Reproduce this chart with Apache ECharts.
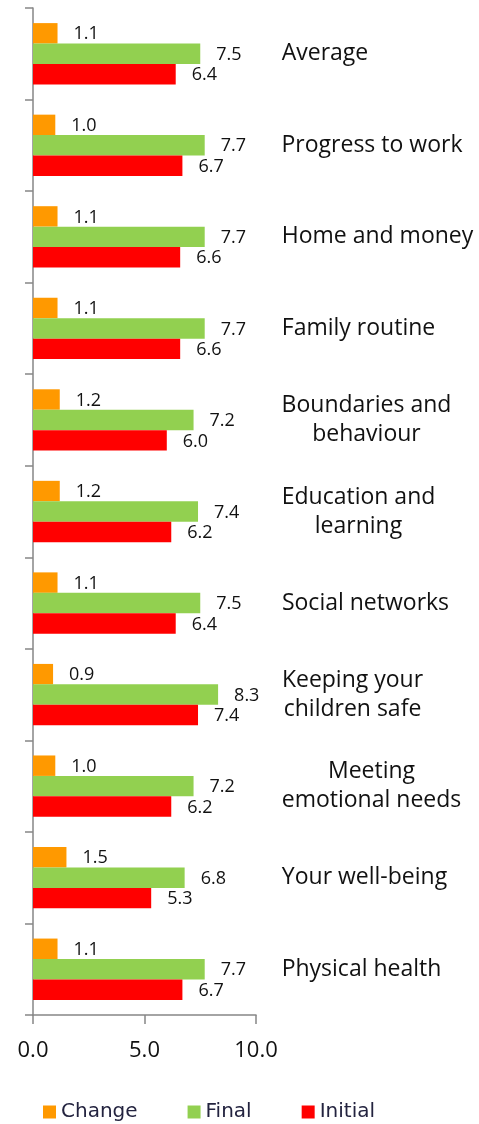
<!DOCTYPE html>
<html>
<head>
<meta charset="utf-8">
<script src="https://cdn.jsdelivr.net/npm/echarts@6/dist/echarts.min.js"></script>
<style>
  html, body { margin: 0; padding: 0; background: #fff; }
  #chart { width: 479px; height: 1124px; }
</style>
</head>
<body>
<div id="chart"></div>
<script>
// categories, top to bottom
const categories = [
  'Average', 'Progress to work', 'Home and money', 'Family routine',
  'Boundaries and\nbehaviour', 'Education and\nlearning', 'Social networks',
  'Keeping your\nchildren safe', 'Meeting\nemotional needs', 'Your well-being',
  'Physical health'
]
const changeValues = [1.1, 1.0, 1.1, 1.1, 1.2, 1.2, 1.1, 0.9, 1.0, 1.5, 1.1]
const finalValues = [7.5, 7.7, 7.7, 7.7, 7.2, 7.4, 7.5, 8.3, 7.2, 6.8, 7.7]
const initialValues = [6.4, 6.7, 6.6, 6.6, 6.0, 6.2, 6.4, 7.4, 6.2, 5.3, 6.7]
const xTicks = [0, 5, 10]

const FONT = '"Open Sans", "Noto Sans", sans-serif'
const catFontSize = 23

// multi-line labels are centred inside their own block, block left-aligned
const ctx = document.createElement('canvas').getContext('2d')
ctx.font = catFontSize + 'px "Open Sans"'
const rich = {}
categories.forEach((c, i) => {
  const w = Math.max(...c.split('\n').map(l => ctx.measureText(l).width))
  rich['c' + i] = {
    width: Math.ceil(w) + 1,
    align: 'center',
    fontSize: catFontSize,
    lineHeight: 29,
    fontFamily: FONT,
    color: '#111'
  }
})

const myChart = echarts.init(document.getElementById('chart'))

const valueLabel = {
  show: true,
  position: 'right',
  distance: 16,
  offset: [0, 1],
  fontSize: 18,
  fontFamily: FONT,
  color: '#111',
  formatter: p => p.value.toFixed(1)
}

const option = {
  animation: false,
  grid: { left: 33, right: 223, top: 8, bottom: 109 },
  legend: {
    left: 38,
    top: 1097,
    itemWidth: 13,
    itemHeight: 13,
    itemGap: 50,
    icon: 'rect',
    textStyle: { fontSize: 20, fontFamily: '"DejaVu Sans", sans-serif', color: '#23233f' },
    data: ['Change', 'Final', 'Initial']
  },
  xAxis: {
    type: 'value',
    min: xTicks[0],
    max: xTicks[xTicks.length - 1],
    interval: xTicks[1] - xTicks[0],
    splitLine: { show: false },
    axisLine: { show: true, lineStyle: { color: '#868686', width: 1.5 } },
    axisTick: { show: true, length: 9, lineStyle: { color: '#868686', width: 1.5 } },
    axisLabel: {
      margin: 25,
      fontSize: 22,
      fontFamily: FONT,
      color: '#111',
      formatter: v => v.toFixed(1)
    }
  },
  yAxis: [
    {
      type: 'category',
      data: categories,
      inverse: true,
      position: 'left',
      axisLine: { show: true, lineStyle: { color: '#868686', width: 1.5 } },
      axisTick: { show: true, length: 8, lineStyle: { color: '#868686', width: 1.5 } },
      axisLabel: { show: false }
    },
    {
      type: 'category',
      data: categories,
      inverse: true,
      position: 'right',
      axisLine: { show: false },
      axisTick: { show: false },
      axisLabel: {
        margin: 25,
        align: 'left',
        formatter: (v, i) => v.split('\n').map(l => '{c' + i + '|' + l + '}').join('\n'),
        rich: rich
      }
    }
  ],
  series: [
    {
      name: 'Change',
      type: 'bar',
      data: changeValues,
      barGap: '0%',
      barCategoryGap: '33%',
      itemStyle: { color: '#ff9900' },
      label: valueLabel
    },
    {
      name: 'Final',
      type: 'bar',
      data: finalValues,
      barGap: '0%',
      barCategoryGap: '33%',
      itemStyle: { color: '#92d050' },
      label: valueLabel
    },
    {
      name: 'Initial',
      type: 'bar',
      data: initialValues,
      barGap: '0%',
      barCategoryGap: '33%',
      itemStyle: { color: '#ff0000' },
      label: valueLabel
    }
  ]
}

myChart.setOption(option)
</script>
</body>
</html>
